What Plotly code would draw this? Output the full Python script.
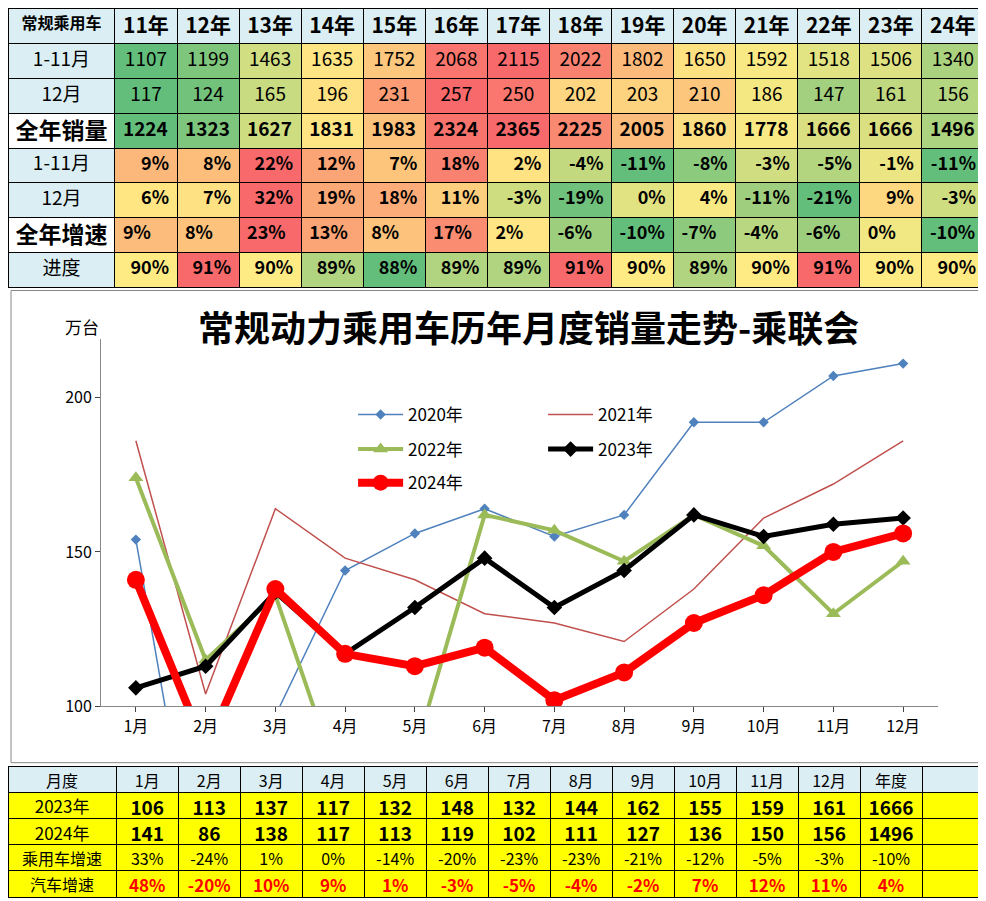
import plotly.graph_objects as go

years = ["11年","12年","13年","14年","15年","16年","17年","18年","19年","20年","21年","22年","23年","24年"]
row_labels = ["1-11月","12月","全年销量","1-11月","12月","全年增速","进度"]
ytd11 = [1107,1199,1463,1635,1752,2068,2115,2022,1802,1650,1592,1518,1506,1340]
dec = [117,124,165,196,231,257,250,202,203,210,186,147,161,156]
full = [1224,1323,1627,1831,1983,2324,2365,2225,2005,1860,1778,1666,1666,1496]
g_ytd = [9,8,22,12,7,18,2,-4,-11,-8,-3,-5,-1,-11]
g_dec = [6,7,32,19,18,11,-3,-19,0,4,-11,-21,9,-3]
g_full = [9,8,23,13,8,17,2,-6,-10,-7,-4,-6,0,-10]
progress = [90,91,90,89,88,89,89,91,90,89,90,91,90,90]

months = ["1月","2月","3月","4月","5月","6月","7月","8月","9月","10月","11月","12月"]
s2020 = [154,25,97,144,156,164,155,162,192,192,207,211]
s2021 = [186,104,164,148,141,130,127,121,138,161,172,186]
s2022 = [174,115,136,70,85,162,157,147,162,152,130,147]
s2023 = [106,113,137,117,132,148,132,144,162,155,159,161]
s2024 = [141,86,138,117,113,119,102,111,127,136,150,156]
total23, total24 = 1666, 1496
pv_growth = ["33%","-24%","1%","0%","-14%","-20%","-23%","-23%","-21%","-12%","-5%","-3%","-10%"]
auto_growth = ["48%","-20%","10%","9%","1%","-3%","-5%","-4%","-2%","7%","12%","11%","4%"]

def lerp(c1, c2, t):
    return "rgb(%d,%d,%d)" % tuple(round(a + (b - a) * t) for a, b in zip(c1, c2))

G, Y, R = (99,190,123), (255,235,132), (248,105,107)
def scale(vals):
    s = sorted(vals); n = len(s)
    mid = (s[n//2 - 1] + s[n//2]) / 2
    lo, hi = s[0], s[-1]
    out = []
    for v in vals:
        if v <= mid:
            t = 0 if mid == lo else (v - lo) / (mid - lo); out.append(lerp(G, Y, t))
        else:
            t = (v - mid) / (hi - mid); out.append(lerp(Y, R, t))
    return out

LB = "#DAEEF3"
FONT = "Noto Sans CJK SC"
fig = go.Figure()

def px2y(p):
    return min(1, max(0, 1 - p / 901))

def add_row(top, h, cells, fills, align, sizes, colw, colors=None, weight="normal"):
    fig.add_trace(go.Table(
        domain=dict(x=[0, 0.99], y=[px2y(top + h + 2), px2y(top)]),
        columnwidth=colw,
        header=dict(values=cells, fill_color=fills, line_color="black", height=h,
                    font=dict(family=FONT, color=colors or "black", size=sizes, weight=weight), align=align),
        cells=dict(values=[[] for _ in cells])))

RH = 35.2
CW = [108] + [62.7]*14
B, N = "bold", "normal"
rowspec = [
    ([ "常规乘用车"] + years, [LB]*15, ["center"]*15, [16] + [21]*14, B),
    ([row_labels[0]] + [str(v) for v in ytd11], [LB] + scale(ytd11), ["center"]*15, 19, N),
    ([row_labels[1]] + [str(v) for v in dec], [LB] + scale(dec), ["center"]*15, 19, N),
    ([row_labels[2]] + [str(v) for v in full], ["white"] + scale(full), ["center"] + ["left"]*14, [23] + [19]*14, B),
    ([row_labels[3]] + ["%d%%" % v for v in g_ytd], [LB] + scale(g_ytd), ["center"] + ["right"]*14, [19] + [18]*14, [N] + [B]*14),
    ([row_labels[4]] + ["%d%%" % v for v in g_dec], [LB] + scale(g_dec), ["center"] + ["right"]*14, [19] + [18]*14, [N] + [B]*14),
    ([row_labels[5]] + ["%d%%" % v for v in g_full], ["white"] + scale(g_full), ["center"] + ["left"]*14, [23] + [18]*14, B),
    ([row_labels[6]] + ["%d%%" % v for v in progress], [LB] + scale(progress), ["center"] + ["right"]*14, [19] + [18]*14, [N] + [B]*14),
]
for i, (c, f, a, s, w) in enumerate(rowspec):
    add_row(i * RH + 1, RH, c, f, a, s, CW, weight=w)

# bottom table
BW = [110] + [63]*14
BH = 26.4
B0 = 768
YEL = "#FFFF00"
add_row(B0, BH, ["月度"] + months + ["年度", ""], [LB]*15, "center", 16, BW)
add_row(B0 + BH, BH, ["2023年"] + [str(v) for v in s2023] + [str(total23), ""], [YEL]*15, "center", [17] + [19]*14, BW, weight=[N] + [B]*14)
add_row(B0 + 2*BH, BH, ["2024年"] + [str(v) for v in s2024] + [str(total24), ""], [YEL]*15, "center", [17] + [19]*14, BW, weight=[N] + [B]*14)
add_row(B0 + 3*BH, BH, ["乘用车增速"] + pv_growth + [""], [YEL]*15, "center", [16] + [16]*14, BW)
add_row(B0 + 4*BH, BH, ["汽车增速"] + auto_growth + [""], [YEL]*15, "center", [16] + [17]*14, BW,
        colors=["black"] + ["red"]*14, weight=[N] + [B]*14)

fig.add_trace(go.Scatter(x=months, y=s2020, name="2020年", mode="lines+markers", legend="legend",
    line=dict(color="#4F81BD", width=1.5), marker=dict(symbol="diamond", size=8, color="#4F81BD")))
fig.add_trace(go.Scatter(x=months, y=s2021, name="2021年", mode="lines", legend="legend",
    line=dict(color="#C0504D", width=1.5)))
fig.add_trace(go.Scatter(x=months, y=s2022, name="2022年", mode="lines+markers", legend="legend2",
    line=dict(color="#9BBB59", width=4), marker=dict(symbol="triangle-up", size=13, color="#9BBB59")))
fig.add_trace(go.Scatter(x=months, y=s2023, name="2023年", mode="lines+markers", legend="legend2",
    line=dict(color="black", width=5), marker=dict(symbol="diamond", size=12, color="black")))
fig.add_trace(go.Scatter(x=months, y=s2024, name="2024年", mode="lines+markers", legend="legend3",
    line=dict(color="#FF0000", width=8), marker=dict(symbol="circle", size=18, color="#FF0000")))

leg = dict(x=0.35, xanchor="left", yanchor="middle", orientation="h", entrywidth=130,
           bgcolor="rgba(0,0,0,0)", font=dict(size=17), itemwidth=45)
fig.update_layout(
    width=986, height=901, margin=dict(l=0, r=0, t=0, b=0),
    paper_bgcolor="white", plot_bgcolor="white",
    font=dict(family=FONT, color="black"),
    xaxis=dict(domain=[93/986, 930/986], showline=True, linecolor="#888", ticks="outside",
               tickfont=dict(size=16), showgrid=False, range=[-0.5, 11.5]),
    yaxis=dict(domain=[px2y(707), px2y(335)], range=[100, 219], tickvals=[100, 150, 200],
               showline=True, linecolor="#888", ticks="outside", showgrid=False,
               tickfont=dict(size=16)),
    legend=dict(leg, y=px2y(412)),
    legend2=dict(leg, y=px2y(447)),
    legend3=dict(leg, y=px2y(481)),
    showlegend=True,
    shapes=[dict(type="rect", xref="paper", yref="paper", x0=3/986, x1=983/986,
                 y0=px2y(764), y1=px2y(286), line=dict(color="#888", width=1))],
    annotations=[
        dict(text="<b>常规动力乘用车历年月度销量走势-乘联会</b>", x=520/986, y=px2y(322), xref="paper", yref="paper",
             showarrow=False, font=dict(size=36, color="black")),
        dict(text="万台", x=55/986, y=px2y(322), xref="paper", yref="paper",
             showarrow=False, font=dict(size=17)),
    ],
)
fig.write_html("out.html")
